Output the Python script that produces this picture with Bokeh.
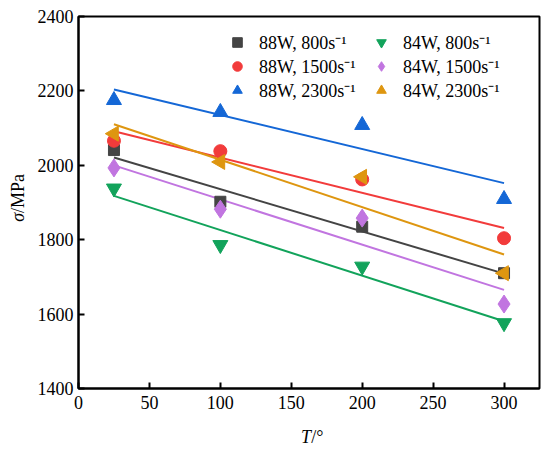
import numpy as np
from bokeh.plotting import figure
from bokeh.models import Legend, LegendItem, Label, FixedTicker
from bokeh.embed import file_html
from bokeh.resources import INLINE

temps = [25, 100, 200, 300]
s88_800 = [2041, 1902, 1835, 1710]
s88_1500 = [2066, 2038, 1962, 1804]
s88_2300 = [2175, 2143, 2108, 1909]
s84_800 = [1938, 1786, 1728, 1576]
s84_1500 = [1993, 1882, 1858, 1627]
s84_2300 = [2085, 2009, 1969, 1710]

labels = ["88W, 800s\u207b\u00b9", "88W, 1500s\u207b\u00b9", "88W, 2300s\u207b\u00b9",
          "84W, 800s\u207b\u00b9", "84W, 1500s\u207b\u00b9", "84W, 2300s\u207b\u00b9"]
series = [s88_800, s88_1500, s88_2300, s84_800, s84_1500, s84_2300]
colors = ["#444444", "#F23B3B", "#1467D6", "#12A35B", "#C175E0", "#DE9610"]
markers = ["square", "circle", "triangle", "inverted_triangle", "diamond", "triangle"]
sizes = [11, 13, 15, 15, 18, 15]
angles = [0, 0, 0, 0, 0, np.pi / 2]

FONT = "Liberation Serif"

p = figure(width=542, height=448, x_range=(0, 325), y_range=(1400, 2400),
           output_backend="svg", toolbar_location=None,
           min_border_left=78, min_border_right=3, min_border_top=16, min_border_bottom=60)
p.xgrid.visible = False
p.ygrid.visible = False
p.outline_line_color = "black"
p.outline_line_width = 2
p.background_fill_color = "white"
p.border_fill_color = "white"

for ax in (p.xaxis[0], p.yaxis[0]):
    ax.axis_line_width = 2
    ax.axis_line_color = "black"
    ax.major_tick_in = 6
    ax.major_tick_out = 0
    ax.major_tick_line_width = 2
    ax.minor_tick_in = 0
    ax.minor_tick_out = 0
    ax.major_label_text_font = FONT
    ax.major_label_text_font_size = "18px"
    ax.major_label_text_color = "black"
p.xaxis[0].ticker = FixedTicker(ticks=[0, 50, 100, 150, 200, 250, 300])
p.yaxis[0].ticker = FixedTicker(ticks=[1400, 1600, 1800, 2000, 2200, 2400])
p.xaxis[0].major_label_standoff = 7
p.yaxis[0].major_label_standoff = 5

xs = np.array(temps, dtype=float)
scatter_renderers = []
for ys, c in zip(series, colors):
    k, b = np.polyfit(xs, np.array(ys, dtype=float), 1)
    xe = np.array([xs.min(), xs.max()])
    p.line(xe, k * xe + b, line_color=c, line_width=2)
for ys, c, m, s, a in zip(series, colors, markers, sizes, angles):
    r = p.scatter(temps, ys, marker=m, size=s, fill_color=c, line_color=c, angle=a)
    scatter_renderers.append(r)

items = [LegendItem(label=labels[i], renderers=[scatter_renderers[i]]) for i in range(6)]
legend = Legend(items=items, location=(147, 286), ncols=2,
                label_text_font=FONT, label_text_font_size="18px",
                glyph_width=24, glyph_height=24, label_height=21, label_width=110,
                label_standoff=10, spacing=0, padding=0, margin=0,
                background_fill_alpha=0, border_line_alpha=0, label_text_color="black")
p.add_layout(legend, "center")

# axis titles: drawn in data coordinates, parked in side panels that have spare room
lab_kw = dict(text_font=FONT, text_font_size="18px", text_baseline="middle", text_color="black")
p.add_layout(Label(x=164, y=1400, y_offset=-48, text="T", text_font_style="italic",
                   text_align="right", **lab_kw), "below")
p.add_layout(Label(x=0, y=1872, x_offset=-61, angle=np.pi / 2, text="\u03c3",
                   text_font_style="italic", text_align="right", **lab_kw), "below")
p.add_layout(Label(x=0, y=1872, x_offset=-61, angle=np.pi / 2, text="/MPa",
                   text_align="left", **lab_kw), "left")
p.add_layout(Label(x=164, y=1400, y_offset=-48, text="/\u00b0", text_align="left", **lab_kw), "left")

open("out.html", "w").write(file_html(p, INLINE))
